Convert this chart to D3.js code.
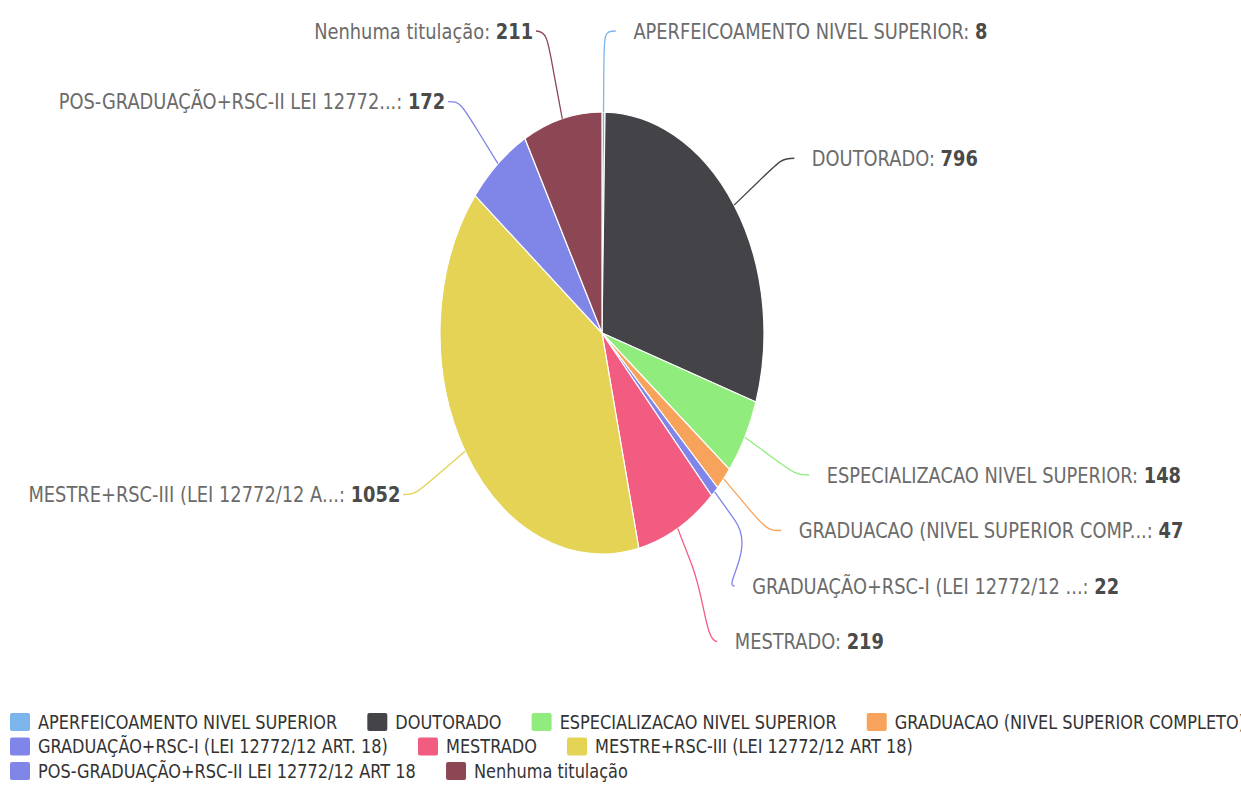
<!DOCTYPE html>
<html><head><meta charset="utf-8">
<script src="https://cdn.jsdelivr.net/npm/d3@7"></script>
<style>body{margin:0;background:#fff}svg{display:block}</style>
</head><body>
<svg id="c" width="1241" height="807"></svg>
<script>
const categories = [
  "APERFEICOAMENTO NIVEL SUPERIOR",
  "DOUTORADO",
  "ESPECIALIZACAO NIVEL SUPERIOR",
  "GRADUACAO (NIVEL SUPERIOR COMPLETO)",
  "GRADUAÇÃO+RSC-I (LEI 12772/12 ART. 18)",
  "MESTRADO",
  "MESTRE+RSC-III (LEI 12772/12 ART 18)",
  "POS-GRADUAÇÃO+RSC-II LEI 12772/12 ART 18",
  "Nenhuma titulação"
];
const values = [8, 796, 148, 47, 22, 219, 1052, 172, 211];
const colors = ["#7cb5ec", "#434348", "#90ed7d", "#f7a35c", "#8085e9", "#f15c80", "#e4d354", "#8085e8", "#8d4653"];

const FONT = "'DejaVu Sans', Verdana, sans-serif";
const cx = 602, cy = 333, R = 221, SX = 0.733;
const LD = 302, SLOT_H = 55.5, BRK = 40;
const LBL_F = 21, LBL_K = 0.85, LEG_F = 19, LEG_K = 0.85;

const svg = d3.select("#c");
const data = categories.map((n, i) => ({ name: n, value: values[i], color: colors[i] }));
const arcs = d3.pie().sort(null).value(d => d.value)(data);
const arc = d3.arc().innerRadius(0).outerRadius(R);

const gPie = svg.append("g").attr("transform", `translate(${cx},${cy}) scale(${SX},1)`);
gPie.selectAll("path").data(arcs).join("path")
  .attr("d", arc).attr("fill", d => d.data.color)
  .attr("stroke", "#fff").attr("stroke-width", 1.2)
  .attr("vector-effect", "non-scaling-stroke");

// label layout (wide coordinate space, relative to centre)
arcs.forEach(a => {
  const m = (a.startAngle + a.endAngle) / 2;
  a.ux = Math.sin(m); a.uy = -Math.cos(m);
  a.left = a.ux < 0;
  a.natY = LD * a.uy;
});
function layoutSide(pts) {
  pts.sort((a, b) => a.natY - b.natY);
  const slots = [];
  for (let p = -LD; p <= LD + SLOT_H / 2; p += SLOT_H) slots.push(p);
  const n = slots.length, free = slots.slice();
  pts.forEach(pt => {
    let best = 1e9, si = 0;
    for (let s = 0; s < n; s++) { const d = Math.abs(slots[s] - pt.natY); if (d < best) { best = d; si = s; } }
    while (si < n && free[si] === null) si++;
    if (si >= n) { si = n - 1; while (free[si] === null) si--; }
    pt.slot = si; free[si] = null;
  });
  pts.forEach(pt => {
    let y = slots[pt.slot];
    if ((pt.natY > y && free[pt.slot + 1] !== null) || (pt.natY < y && free[pt.slot - 1] !== null)) y = pt.natY;
    pt.ly = y;
    const yx = (pt.slot === 0 || pt.slot === n - 1) ? pt.natY : y;
    pt.connX = (pt.left ? -1 : 1) * Math.sqrt(Math.max(0, LD * LD - yx * yx));
  });
}
layoutSide(arcs.filter(a => !a.left));
layoutSide(arcs.filter(a => a.left));

const X = xw => cx + xw * SX, Y = yw => cy + yw;
const gConn = svg.append("g");
arcs.forEach(a => {
  const s = a.left ? -1 : 1;
  const ex = R * a.ux, ey = R * a.uy;
  const bx = (R + BRK) * a.ux, by = (R + BRK) * a.uy;
  const p = d3.path();
  p.moveTo(X(a.connX + s * 16), Y(a.ly));
  p.bezierCurveTo(X(a.connX), Y(a.ly), X(2 * bx - ex), Y(2 * by - ey), X(bx), Y(by));
  p.lineTo(X(ex), Y(ey));
  gConn.append("path").attr("d", p.toString()).attr("fill", "none")
    .attr("stroke", a.data.color).attr("stroke-width", 1.3);
});

const short = n => n.length > 30 ? n.slice(0, 30) + "..." : n;
const gLab = svg.append("g").attr("font-family", FONT).attr("font-size", LBL_F);
arcs.forEach(a => {
  const tx = a.left ? X(a.connX - 20) : X(a.connX + 40);
  const t = gLab.append("text")
    .attr("transform", `translate(${tx},${Y(a.ly)}) scale(${LBL_K},1)`)
    .attr("text-anchor", a.left ? "end" : "start").attr("dy", "0.36em");
  t.append("tspan").attr("fill", "#6b6b6b").text(short(a.data.name) + ": ");
  t.append("tspan").attr("fill", "#4a4a4a").attr("font-weight", "bold").text(a.data.value);
});

// legend
const gLeg = svg.append("g").attr("font-family", FONT).attr("font-size", LEG_F);
const LX0 = 10, LMAX = 1290, LROW0 = 722, LROWH = 24.5;
let lx = LX0, row = 0;
data.forEach(d => {
  const it = gLeg.append("g");
  const t = it.append("text").attr("fill", "#333").attr("dy", "0.36em").text(d.name);
  const tw = t.node().getComputedTextLength() * LEG_K;
  const w = 28 + tw;
  if (lx > LX0 && lx + w > LMAX) { lx = LX0; row++; }
  const y = LROW0 + row * LROWH;
  it.append("rect").attr("x", lx).attr("y", y - 9).attr("width", 20).attr("height", 18)
    .attr("rx", 2).attr("fill", d.color);
  t.attr("transform", `translate(${lx + 28},${y}) scale(${LEG_K},1)`);
  lx += w + 30;
});
</script>
</body></html>
